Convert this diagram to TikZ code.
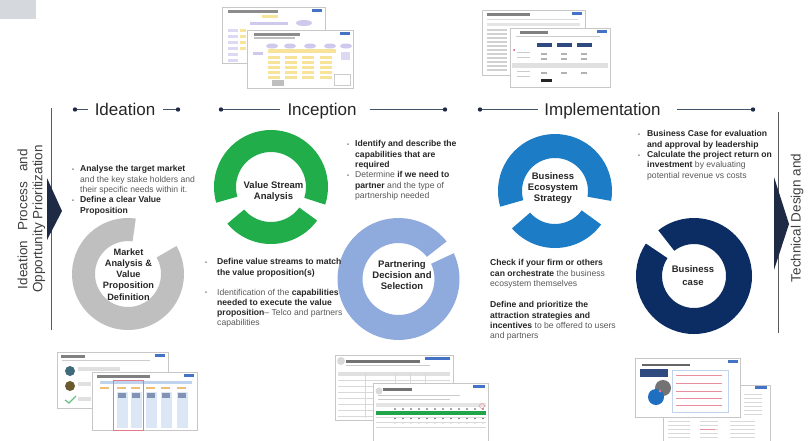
\documentclass[tikz,border=0pt]{standalone}
\usepackage{fontspec}
\setmainfont{Liberation Sans}
\usetikzlibrary{calc}

\definecolor{navy}{HTML}{1F2A44}
\definecolor{hdrln}{HTML}{44546A}
\definecolor{hdrtxt}{HTML}{262626}
\definecolor{bodytxt}{HTML}{595959}
\definecolor{darktxt}{HTML}{262626}
\definecolor{sidetx}{HTML}{404040}
\definecolor{vln}{HTML}{595959}
\definecolor{ringgray}{HTML}{BFBFBF}
\definecolor{ringgreen}{HTML}{22AD4B}
\definecolor{ringlblue}{HTML}{8FAADC}
\definecolor{ringblue}{HTML}{1C7CC6}
\definecolor{ringnavy}{HTML}{0C2C64}
\definecolor{cornergray}{HTML}{D5D8DC}
\definecolor{tabblue}{HTML}{4472C4}
\definecolor{docylw}{HTML}{F8E39B}
\definecolor{docprp}{HTML}{CFC9EE}
\definecolor{docnavy}{HTML}{2F4A7F}
\definecolor{docred}{HTML}{D9435A}
\definecolor{docgreen}{HTML}{21A548}
\definecolor{docteal}{HTML}{3F6A7A}
\definecolor{docbrown}{HTML}{6B5A2E}
\definecolor{docltblue}{HTML}{BFD3EE}
\definecolor{docblue}{HTML}{1F6FC0}
\definecolor{docorange}{HTML}{E8A23C}

% ring segment: colour, centre, outer radius, inner radius, start, end
\newcommand{\ringarc}[6]{%
  \fill[#1] ($(#2)+(#5:#3)$) arc[start angle=#5, end angle=#6, radius=#3]
    -- ($(#2)+(#6:#4)$) arc[start angle=#6, end angle=#5, radius=#4] -- cycle;}
\newcommand{\bulit}[1][8pt]{\makebox[#1][l]{\raisebox{0.4pt}{\scalebox{0.65}{\textbullet}}}}
\newcommand{\indt}[1][8pt]{\hspace*{#1}}
\newcommand{\bft}[1]{{\bfseries\color{darktxt}#1}}

\begin{document}
\begin{tikzpicture}[x=1pt, y=1pt,
  hdr/.style={font=\fontsize{17}{20}\selectfont, text=hdrtxt, inner sep=0pt, anchor=base},
  hdrdot/.style={circle, fill=navy, inner sep=0pt, minimum size=4.4pt},
  hdrline/.style={draw=hdrln, line width=0.9pt},
  desc/.style={anchor=north west, align=left, inner sep=0pt,
               font=\fontsize{8.6}{10.3}\selectfont, text=bodytxt},
  ringlbl/.style={align=center, inner sep=0pt, text=darktxt,
                  font=\bfseries\fontsize{9.5}{11}\selectfont},
  sidetxt/.style={rotate=90, align=center, inner sep=0pt, text=sidetx,
                  font=\fontsize{13.5}{15}\selectfont},
  slide/.style={draw=black!22, fill=white, line width=0.5pt},
  vline/.style={draw=vln, line width=0.9pt}
]
  \fill[white] (0,0) rectangle (809,-440);
  \useasboundingbox (0,0) rectangle (809,-440);
  \fill[cornergray] (0,0) rectangle (36,-19);

  % Side frames
  \draw[vline] (51,-108) -- (51,-330);
  \fill[navy] (47,-178) -- (62,-211) -- (47,-240) -- cycle;
  \node[sidetxt] (ideaSide) at (31.5,-219)
    {\makebox[140pt][s]{Ideation Process and}\\Opportunity Prioritization};
  \draw[vline] (778,-112) -- (778,-333);
  \fill[navy] (774,-177) -- (789,-224) -- (774,-270) -- cycle;
  \node[sidetxt] (techSide) at (806.5,-218) {Technical Design and\\[3.5pt]Implementation};

  % Phase headers
  \node[hdr] (ideation) at (125,-115.5) {Ideation};
  \node[hdr] (inception) at (322,-115.5) {Inception};
  \node[hdr] (implem) at (602.5,-115.5) {Implementation};
  \node[hdrdot] (ideaL) at (75,-109.5) {};
  \node[hdrdot] (ideaR) at (178,-109.5) {};
  \node[hdrdot] (incL) at (221,-109.5) {};
  \node[hdrdot] (incR) at (445,-109.5) {};
  \node[hdrdot] (impL) at (480,-109.5) {};
  \node[hdrdot] (impR) at (753,-109.5) {};
  \draw[hdrline, shorten >=7pt] (ideaL) -- (ideaL -| ideation.west);
  \draw[hdrline, shorten <=8pt] (ideaR -| ideation.east) -- (ideaR);
  \draw[hdrline, shorten >=7pt] (incL) -- (incL -| inception.west);
  \draw[hdrline, shorten <=13pt] (incR -| inception.east) -- (incR);
  \draw[hdrline, shorten >=6pt] (impL) -- (impL -| implem.west);
  \draw[hdrline, shorten <=16pt] (impR -| implem.east) -- (impR);

  % Rings
  \coordinate (mktC) at (128,-274);
  \coordinate (vsaC) at (271,-187);
  \coordinate (pdsC) at (398.5,-279);
  \coordinate (besC) at (555,-191);
  \coordinate (bcC) at (694,-276);
  \ringarc{ringgray}{mktC}{56pt}{33pt}{82}{390}
  \ringarc{ringgreen}{vsaC}{57pt}{35pt}{-18}{196}
  \ringarc{ringgreen}{vsaC}{57pt}{35pt}{220}{324}
  \ringarc{ringlblue}{pdsC}{61pt}{36pt}{38}{385}
  \ringarc{ringblue}{besC}{57pt}{33pt}{-10}{196}
  \ringarc{ringblue}{besC}{57pt}{33pt}{221}{324}
  \ringarc{ringnavy}{bcC}{58pt}{32pt}{146}{488}

  \node[ringlbl, font=\bfseries\fontsize{9.2}{11.2}\selectfont] (mkt) at (128.5,-274.5)
    {Market\\Analysis \&\\Value\\Proposition\\Definition};
  \node[ringlbl] (vsa) at (273.5,-192) {Value Stream\\Analysis};
  \node[ringlbl] (pds) at (402,-275) {Partnering\\Decision and\\Selection};
  \node[ringlbl] (bes) at (553,-188.5) {Business\\Ecosystem\\Strategy};
  \node[ringlbl] (bc) at (693,-275.5) {Business\\[1.5pt]case};

  % Descriptions
  \node[desc] (mktTxt) at (72,-165.5)
    {\bulit\bft{Analyse the target market}\\
     \indt and the key stake holders and\\
     \indt their specific needs within it.\\
     \bulit\bft{Define a clear Value}\\
     \indt\bft{Proposition}};
  \node[desc] (capTxt) at (347,-140.5)
    {\bulit\bft{Identify and describe the}\\
     \indt\bft{capabilities that are}\\
     \indt\bft{required}\\
     \bulit Determine \bft{if we need to}\\
     \indt\bft{partner} and the type of\\
     \indt partnership needed};
  \node[desc] (vsaTxt) at (205,-258.5)
    {\bulit[12pt]\bft{Define value streams to match}\\
     \indt[12pt]\bft{the value proposition(s)}\\[9.5pt]
     \bulit[12pt]Identification of the \bft{capabilities}\\
     \indt[12pt]\bft{needed to execute the value}\\
     \indt[12pt]\bft{proposition}-- Telco and partners\\
     \indt[12pt]capabilities};
  \node[desc] (besTxt) at (490,-259.5)
    {\bft{Check if your firm or others}\\
     \bft{can orchestrate} the business\\
     ecosystem themselves\\[11pt]
     \bft{Define and prioritize the}\\
     \bft{attraction strategies and}\\
     \bft{incentives} to be offered to users\\
     and partners};
  \node[desc] (bcTxt) at (638,-130.5)
    {\bulit[9pt]\bft{Business Case for evaluation}\\
     \indt[9pt]\bft{and approval by leadership}\\
     \bulit[9pt]\bft{Calculate the project return on}\\
     \indt[9pt]\bft{investment} by evaluating\\
     \indt[9pt]potential revenue vs costs};

  % Thumbnail: value stream slides
  \draw[slide] (222,-7) rectangle (325,-63);
  \fill[tabblue] (312,-9) rectangle (322,-12);
  \fill[black!45] (228,-10) rectangle (278,-12.5);
  \fill[docylw] (262,-15) rectangle (278,-18);
  \fill[docprp] (250,-22) rectangle (288,-25);
  \fill[docprp] (304,-23) ellipse[x radius=8pt, y radius=3pt];
  \foreach \yy in {29,35,41,47,53,59}
    \fill[docprp!70] (228,-\yy) rectangle (238,-\yy-3);
  \foreach \yy in {29,35,41,47}
    \fill[docylw] (240,-\yy) rectangle (246,-\yy-3);
  \draw[slide] (247,-30) rectangle (353,-88);
  \fill[tabblue] (340,-32) rectangle (350,-35);
  \fill[black!45] (254,-33) rectangle (300,-35.5);
  \fill[black!25] (254,-37) rectangle (295,-38.5);
  \foreach \xx in {272,290,310,330,346}
    \fill[docprp] (\xx,-46) ellipse[x radius=6pt, y radius=2.5pt];
  \fill[docprp] (253,-52) rectangle (263,-55);
  \fill[docylw] (268,-49) rectangle (336,-53);
  \foreach \xx in {268,285,302,320}
    \foreach \yy in {56,61,66,71,76}
      \fill[docylw] (\xx,-\yy) rectangle (\xx+12,-\yy-3);
  \fill[docprp!70] (341,-52) rectangle (350,-60);
  \draw[black!20, line width=0.4pt] (334,-74) rectangle (350,-85);
  \fill[black!25] (272,-80) rectangle (284,-86);

  % Thumbnail: ecosystem slides
  \draw[slide] (482,-10) rectangle (585,-75);
  \fill[tabblue] (572,-12) rectangle (582,-15);
  \fill[black!50] (487,-13) rectangle (530,-15.5);
  \fill[black!15] (487,-19) rectangle (578,-20.2);
  \fill[black!10] (487,-23) rectangle (580,-26);
  \foreach \yy in {29,33,...,69}
    \fill[black!18] (487,-\yy) rectangle (507,-\yy-1.5);
  \draw[slide] (510,-28) rectangle (610,-87);
  \fill[tabblue] (597,-30) rectangle (607,-33);
  \fill[black!50] (520,-31) rectangle (548,-33.5);
  \fill[black!20] (516,-36) rectangle (600,-37.2);
  \foreach \xx in {537,557,577}
    \fill[docnavy] (\xx,-43) rectangle (\xx+15,-47);
  \fill[docred] (514,-50) circle (1pt);
  \fill[docred] (514,-65) circle (1pt);
  \fill[black!12] (512,-63) rectangle (608,-68);
  \foreach \xx in {541,561,581} {
    \fill[black!30] (\xx,-53) rectangle (\xx+6,-55);
    \fill[black!30] (\xx,-58) rectangle (\xx+6,-60);
    \fill[black!30] (\xx,-72) rectangle (\xx+6,-74);
  }
  \foreach \yy in {52,57,71,76}
    \fill[black!20] (517,-\yy) rectangle (530,-\yy-1.2);
  \fill[black!85] (541,-79) rectangle (552,-82);

  % Thumbnail: market analysis slides
  \draw[slide] (57,-352) rectangle (168,-408);
  \fill[tabblue] (155,-354) rectangle (165,-357);
  \fill[black!50] (61,-355) rectangle (85,-357.5);
  \fill[black!20] (62,-360) rectangle (150,-361.2);
  \fill[docteal] (70,-371) circle (5pt);
  \fill[docbrown] (70,-386) circle (5pt);
  \draw[docgreen!70, line width=1.2pt] (65,-400) -- (69,-403) -- (76,-396);
  \fill[black!12] (78,-367) rectangle (120,-371);
  \fill[black!12] (78,-382) rectangle (91,-386);
  \fill[black!12] (78,-397) rectangle (91,-401);
  \draw[slide] (92,-372) rectangle (197,-430);
  \fill[tabblue] (184,-374) rectangle (194,-377);
  \fill[black!50] (97,-375) rectangle (150,-377.5);
  \fill[docltblue] (100,-381) rectangle (192,-384);
  \foreach \xx in {100,117,131,146,161,177}
    \fill[docorange!70] (\xx,-387) rectangle (\xx+9,-388.5);
  \foreach \xx in {117,131,146,161,177} {
    \fill[docltblue!55] (\xx,-392) rectangle (\xx+11,-428);
    \fill[docnavy!60] (\xx+1,-393) rectangle (\xx+9,-398);
  }
  \draw[docred!70, line width=0.5pt] (113,-380) rectangle (143,-430);

  % Thumbnail: partnering slides
  \draw[slide] (335,-355) rectangle (453,-420);
  \fill[tabblue] (425,-357) rectangle (450,-360);
  \fill[black!15] (341,-361) circle (4pt);
  \fill[black!55] (346,-360) rectangle (420,-362.5);
  \fill[black!20] (346,-365) rectangle (430,-366.2);
  \fill[black!12] (338,-372) rectangle (450,-376);
  \foreach \yy in {380,386,...,416}
    \draw[black!15, line width=0.3pt] (338,-\yy) -- (450,-\yy);
  \foreach \xx in {365,395,410,425}
    \draw[black!15, line width=0.3pt] (\xx,-372) -- (\xx,-418);
  \draw[slide] (373,-383) rectangle (488,-446);
  \fill[tabblue] (473,-385) rectangle (485,-388);
  \fill[black!15] (379,-391) circle (3.5pt);
  \fill[black!55] (383,-388) rectangle (412,-390.5);
  \fill[black!20] (378,-395) rectangle (460,-396.2);
  \fill[black!20] (378,-398.5) rectangle (450,-399.7);
  \fill[black!10] (376,-403) rectangle (486,-407);
  \fill[docgreen] (376,-411) rectangle (486,-415);
  \foreach \xx in {395,403,...,483} {
    \fill[black!70] (\xx,-409) circle (0.8pt);
    \fill[black!60] (\xx,-418.5) circle (0.8pt);
    \fill[black!40] (\xx,-423) circle (0.7pt);
  }
  \draw[docred!70, line width=0.4pt] (482,-406) circle (2.5pt);
  \foreach \yy in {417,422,427}
    \draw[black!15, line width=0.3pt] (376,-\yy) -- (486,-\yy);

  % Thumbnail: business case slides
  \draw[slide] (663,-385) rectangle (770,-446);
  \fill[tabblue] (755,-386) rectangle (767,-389);
  \foreach \yy in {394,398,...,414}
    \fill[black!15] (744,-\yy) rectangle (762,-\yy-1);
  \foreach \yy in {421,425,...,437} {
    \fill[black!15] (668,-\yy) rectangle (690,-\yy-1);
    \fill[black!15] (700,-\yy) rectangle (718,-\yy-1);
    \fill[black!15] (730,-\yy) rectangle (755,-\yy-1);
  }
  \fill[docred!60] (700,-429) rectangle (715,-430.2);
  \draw[slide] (635,-358) rectangle (740,-417);
  \fill[tabblue] (728,-360) rectangle (738,-363);
  \fill[black!60] (642,-364) rectangle (690,-366);
  \fill[docnavy] (640,-369) rectangle (668,-377);
  \fill[black!55] (663,-388) circle (8pt);
  \fill[docblue] (656,-397) circle (8pt);
  \fill[docred!70] (660,-391) circle (1.5pt);
  \draw[docltblue, line width=0.4pt] (672,-370) rectangle (728,-412);
  \foreach \yy in {375,383,391,398,405}
    \fill[docred!60] (676,-\yy) rectangle (722,-\yy-1.2);
\end{tikzpicture}
\end{document}
